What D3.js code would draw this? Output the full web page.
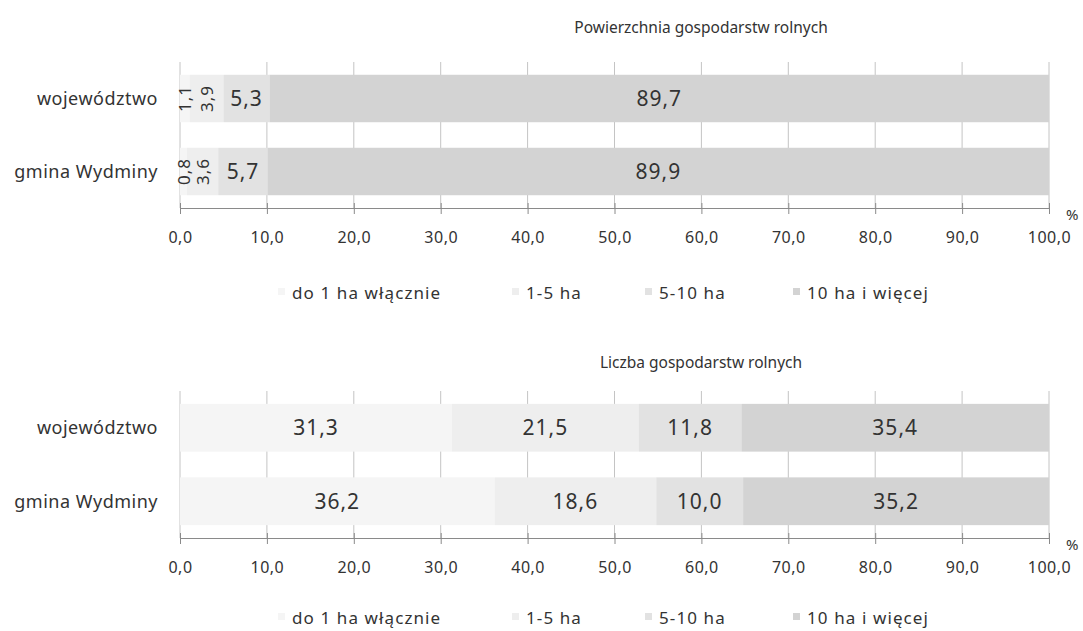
<!DOCTYPE html>
<html>
<head>
<meta charset="utf-8">
<script src="https://cdn.jsdelivr.net/npm/d3@7"></script>
<style>
  body { margin: 0; background: #fff; }
  text { font-family: "Noto Sans", sans-serif; fill: #333; }
</style>
</head>
<body>
<div id="chart"></div>
<script>
// data
var categories = ["województwo", "gmina Wydminy"];
var seriesNames = ["do 1 ha włącznie", "1-5 ha", "5-10 ha", "10 ha i więcej"];
var areaWoj = [1.1, 3.9, 5.3, 89.7];
var areaGmina = [0.8, 3.6, 5.7, 89.9];
var countWoj = [31.3, 21.5, 11.8, 35.4];
var countGmina = [36.2, 18.6, 10.0, 35.2];
var xTicks = [0, 10, 20, 30, 40, 50, 60, 70, 80, 90, 100];

var colors = ["#f5f5f5", "#eeeeee", "#e2e2e2", "#d3d3d3"];

var width = 1083, height = 631;

var svg = d3.select("#chart").append("svg")
    .attr("width", width)
    .attr("height", height);

var xScale = d3.scaleLinear().domain([0, 100]).range([180, 1049]);

var fmt = function(v) { return v.toFixed(1).replace(".", ","); };

function drawChart(title, values, top, bottom, titleY, legendY) {
    var g = svg.append("g");

    var yScale = d3.scaleBand()
        .domain(categories)
        .range([top, bottom])
        .paddingInner(0.35)
        .paddingOuter(0.175);

    g.append("text")
        .attr("x", 701)
        .attr("y", titleY)
        .attr("text-anchor", "middle")
        .style("font-size", "15.5px")
        .text(title);

    // vertical grid
    g.selectAll(".grid")
        .data(xTicks)
        .enter().append("line")
        .attr("x1", function(d) { return xScale(d); })
        .attr("x2", function(d) { return xScale(d); })
        .attr("y1", top)
        .attr("y2", bottom)
        .attr("stroke", "#c4c4c4")
        .attr("stroke-width", 1);

    var rows = categories.map(function(c, i) {
        var acc = 0;
        return values[i].map(function(v, j) {
            var seg = {cat: c, s: j, v: v, x0: acc, x1: acc + v};
            acc += v;
            return seg;
        });
    });
    var segs = d3.merge(rows);

    g.selectAll(".bar")
        .data(segs)
        .enter().append("rect")
        .attr("x", function(d) { return xScale(d.x0); })
        .attr("width", function(d) { return xScale(d.x1) - xScale(d.x0); })
        .attr("y", function(d) { return yScale(d.cat); })
        .attr("height", yScale.bandwidth())
        .attr("fill", function(d) { return colors[d.s]; });

    // small segments get their label turned upright
    g.selectAll(".lbl")
        .data(segs)
        .enter().append("text")
        .attr("transform", function(d) {
            var cx = xScale((d.x0 + d.x1) / 2);
            var cy = yScale(d.cat) + yScale.bandwidth() / 2;
            if (d.v < 5) return "translate(" + cx + "," + cy + ") rotate(-90)";
            return "translate(" + cx + "," + cy + ")";
        })
        .attr("text-anchor", "middle")
        .attr("dy", "0.36em")
        .style("font-size", function(d) { return d.v < 5 ? "17px" : "21px"; })
        .style("letter-spacing", "1px")
        .text(function(d) { return fmt(d.v); });

    // category labels
    g.selectAll(".cat")
        .data(categories)
        .enter().append("text")
        .attr("x", 158)
        .attr("y", function(d) { return yScale(d) + yScale.bandwidth() / 2; })
        .attr("dy", "0.35em")
        .attr("text-anchor", "end")
        .style("font-size", "18px")
        .style("letter-spacing", "0.5px")
        .text(function(d) { return d; });

    var xAxis = d3.axisBottom(xScale)
        .tickValues(xTicks)
        .tickFormat(fmt)
        .tickSizeInner(6)
        .tickSizeOuter(0)
        .tickPadding(18);

    var ax = g.append("g")
        .attr("transform", "translate(0," + bottom + ")")
        .call(xAxis);
    ax.select(".domain").attr("stroke", "#8a8a8a");
    ax.selectAll(".tick line").attr("stroke", "#8a8a8a").attr("y1", -5);
    ax.selectAll(".tick text")
        .style("font-size", "16px")
        .style("letter-spacing", "0.5px")
        .style("font-family", "'Noto Sans', sans-serif")
        .attr("fill", "#333");

    g.append("text")
        .attr("x", 1066)
        .attr("y", bottom + 12)
        .style("font-size", "15px")
        .text("%");

    // legend
    var legX = [278, 512, 645, 793];
    var leg = g.selectAll(".leg")
        .data(seriesNames)
        .enter().append("g")
        .attr("transform", function(d, i) { return "translate(" + legX[i] + "," + legendY + ")"; });
    leg.append("rect")
        .attr("x", 0)
        .attr("y", -11)
        .attr("width", 7)
        .attr("height", 7)
        .attr("fill", function(d, i) { return colors[i]; });
    leg.append("text")
        .attr("x", 14)
        .attr("y", 0)
        .style("font-size", "17px")
        .style("letter-spacing", "1.1px")
        .text(function(d) { return d; });
}

drawChart("Powierzchnia gospodarstw rolnych", [areaWoj, areaGmina], 62, 208, 33, 299);
drawChart("Liczba gospodarstw rolnych", [countWoj, countGmina], 391, 538, 368, 624);
</script>
</body>
</html>
